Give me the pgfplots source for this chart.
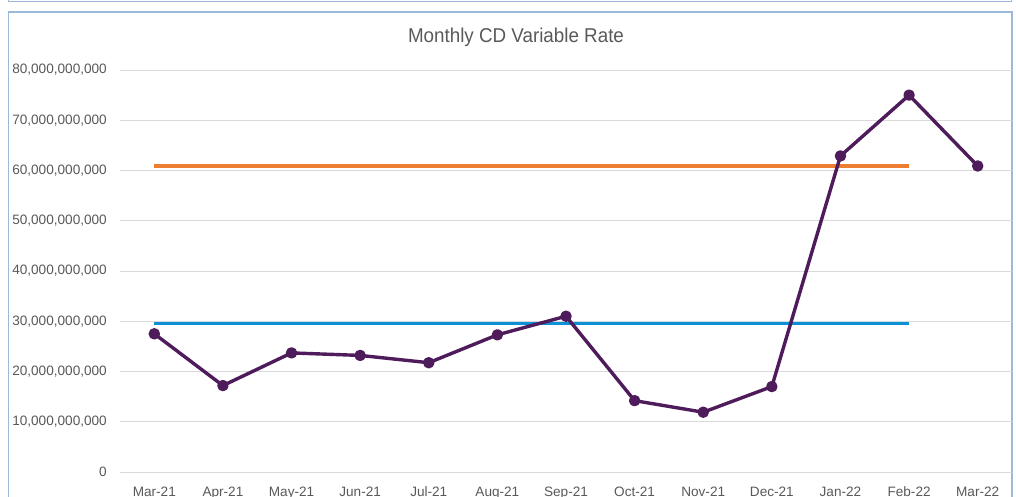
\documentclass[border=0pt]{standalone}
\usepackage{pgfplots}
\pgfplotsset{compat=1.18}
\usepackage{fontspec}
\setmainfont{Liberation Sans}
\definecolor{cdpurple}{HTML}{4E1B5B}
\definecolor{cdorange}{HTML}{ED7D31}
\definecolor{cdblue}{HTML}{0C91D6}
\definecolor{framec}{HTML}{9DB9D9}
\definecolor{txtgray}{HTML}{595959}
\definecolor{gridc}{HTML}{D9D9D9}
\begin{document}
\begin{tikzpicture}
\useasboundingbox (-120pt,-24pt) rectangle (896pt,472pt);
% frames
\draw[framec, line width=1.6pt] (-111.5pt,480pt) -- (-111.5pt,470.5pt) -- (891.5pt,470.5pt) -- (891.5pt,480pt);
\draw[framec, line width=1.6pt] (-111.5pt,-40pt) -- (-111.5pt,460pt) -- (892pt,460pt) -- (892pt,-40pt);
\node[txtgray, font=\fontsize{20}{24}\selectfont] at (396pt,435pt) {\scalebox{0.94}[1]{Monthly CD Variable Rate}};
\begin{axis}[
  at={(0pt,0pt)}, anchor=south west,
  scale only axis, width=892pt, height=402pt,
  xmin=-0.5, xmax=12.5, ymin=0, ymax=80000000000,
  scaled y ticks=false,
  xtick={0,...,12},
  xticklabels={Mar-21,Apr-21,May-21,Jun-21,Jul-21,Aug-21,Sep-21,Oct-21,Nov-21,Dec-21,Jan-22,Feb-22,Mar-22},
  ytick={0,10000000000,20000000000,30000000000,40000000000,50000000000,60000000000,70000000000,80000000000},
  yticklabels={0,{10,000,000,000},{20,000,000,000},{30,000,000,000},{40,000,000,000},{50,000,000,000},{60,000,000,000},{70,000,000,000},{80,000,000,000}},
  axis line style={draw=none},
  major tick length=0pt,
  ymajorgrids, grid style={gridc, line width=1pt},
  tick label style={txtgray, font=\fontsize{13.6}{16}\selectfont},
  yticklabel style={anchor=east, inner sep=0pt, xshift=-13pt},
  xticklabel style={anchor=base, inner sep=0pt, yshift=-24pt},
  clip=false,
]
\addplot[cdorange, line width=3.2pt] coordinates {(0,60900000000) (11,60900000000)};
\addplot[cdblue, line width=3.2pt] coordinates {(0,29500000000) (11,29500000000)};
\addplot[cdpurple, line width=3.4pt, line join=round, mark=*, mark size=4pt, mark options={solid, fill=cdpurple, draw=none}] coordinates {
(0,27500000000) (1,17200000000) (2,23700000000) (3,23200000000) (4,21750000000) (5,27300000000) (6,31000000000) (7,14200000000) (8,11900000000) (9,17000000000) (10,62900000000) (11,75000000000) (12,60900000000)};
\end{axis}
\end{tikzpicture}
\end{document}
